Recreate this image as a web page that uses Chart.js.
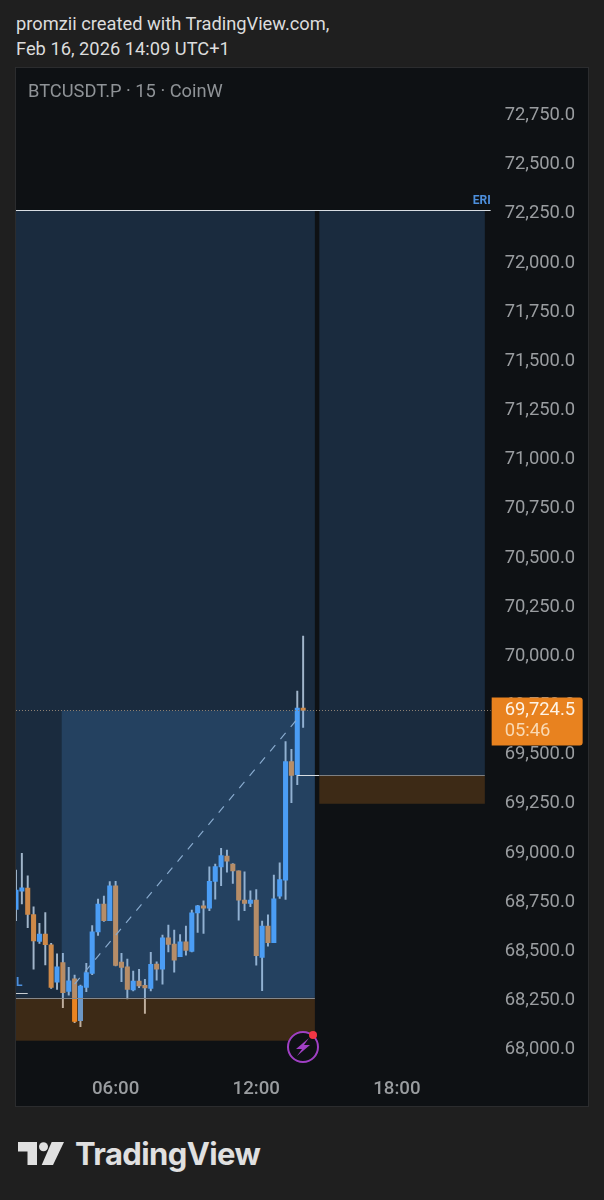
<!DOCTYPE html>
<html>
<head>
<meta charset="utf-8">
<title>BTCUSDT.P 15 CoinW</title>
<script src="https://cdn.jsdelivr.net/npm/chart.js@4"></script>
<style>
html, body { margin: 0; padding: 0; width: 604px; height: 1200px; background: #1f1f1f; overflow: hidden; font-family: Roboto, sans-serif; }
#head { position: absolute; left: 16px; top: 11px; color: #dcdcdc; font-size: 18.3px; line-height: 25px; white-space: nowrap; }
#panel { position: absolute; left: 15px; top: 67px; width: 572px; height: 1038px; border: 1px solid #2b2c2e; background: #0e1114; }
#wrap { position: absolute; left: 16px; top: 68px; width: 572px; height: 1038px; }
#symbol { position: absolute; left: 28px; top: 80px; color: #8f9397; font-size: 18.3px; line-height: 21px; white-space: nowrap; }
#logoText { position: absolute; left: 75px; top: 1135px; color: #e0e0e0; font-family: Inter, sans-serif; font-weight: 700; font-size: 31px; line-height: 38px; letter-spacing: -0.6px; white-space: nowrap; }
svg { position: absolute; }
</style>
</head>
<body>
<div id="head">promzii created with TradingView.com,<br>Feb 16, 2026 14:09 UTC+1</div>
<div id="panel"></div>
<div id="wrap"><canvas id="myChart"></canvas></div>
<div id="symbol">BTCUSDT.P · 15 · CoinW</div>

<!-- alert badge -->
<svg style="left:284px;top:1028px" width="38" height="38" viewBox="0 0 38 38">
  <circle cx="19" cy="19" r="15" fill="#0e1114" stroke="#a040c4" stroke-width="2"></circle>
  <path d="M25 10 L12 21 L18 21 L13 28 L26 17 L20 17 Z" fill="#a040c4"></path>
  <circle cx="29" cy="7" r="4" fill="#f23645"></circle>
</svg>

<!-- logo mark -->
<svg style="left:16px;top:1138px" width="52" height="30" viewBox="0 0 52 30">
  <path d="M2 4 H21 V27 H11.5 V13.5 H2 Z" fill="#e0e0e0"></path>
  <circle cx="27.5" cy="8.7" r="4.5" fill="#e0e0e0"></circle>
  <path d="M35.7 4 H48 L37 27 H25.7 Z" fill="#e0e0e0"></path>
</svg>
<div id="logoText">TradingView</div>

<script>
'use strict';

var times = ['01:45','02:00','02:15','02:30','02:45','03:00','03:15','03:30','03:45','04:00','04:15','04:30','04:45','05:00','05:15','05:30','05:45',
  '06:00','06:15','06:30','06:45','07:00','07:15','07:30','07:45','08:00','08:15','08:30','08:45','09:00','09:15','09:30','09:45',
  '10:00','10:15','10:30','10:45','11:00','11:15','11:30','11:45','12:00','12:15','12:30','12:45','13:00','13:15','13:30','13:45',
  '14:00','14:15','14:30','14:45','15:00','15:15','15:30','15:45','16:00','16:15','16:30','16:45','17:00','17:15','17:30','17:45',
  '18:00','18:15','18:30','18:45','19:00','19:15','19:30','19:45','20:00','20:15','20:30','20:45','21:00','21:15','21:30','21:45','22:00'];

var opens = [68713,68806,68821,68687,68550,68587,68533,68343,68442,68296,68359,68147,68316,68387,68598,68740,68655,68832,68445,68421,68303,68348,68326,68311,
  68434,68409,68568,68536,68472,68548,68499,68695,68731,68719,68855,68929,68984,68943,68909,68760,68743,68760,68468,68628,68543,68780,68862,69465,69398,69737];
var highs = [68913,68998,68884,68726,68642,68696,68540,68487,68489,68418,68379,68328,68438,68631,68765,68781,68854,68855,68489,68460,68399,68408,68357,68494,
  68446,68582,68633,68607,68585,68628,68709,68734,68756,68929,68943,69023,69014,68946,68909,68904,68807,68814,68653,68685,68887,68950,69566,69527,69823,70103];
var lows = [68655,68740,68620,68409,68540,68430,68311,68306,68213,68276,68136,68116,68294,68381,68581,68652,68655,68425,68345,68257,68298,68315,68184,68298,
  68353,68333,68497,68394,68472,68480,68497,68595,68590,68706,68765,68833,68902,68845,68658,68706,68726,68429,68299,68526,68543,68768,68763,69255,69347,69638];
var closes = [68811,68823,68687,68553,68587,68533,68316,68421,68289,68350,68143,68323,68391,68598,68740,68655,68832,68428,68418,68306,68348,68323,68313,68433,
  68409,68568,68534,68455,68548,68504,68695,68731,68719,68855,68931,68987,68958,68909,68760,68743,68760,68478,68628,68543,68767,68865,69464,69394,69737,69724.5];

var priceTicks = [68000,68250,68500,68750,69000,69250,69500,69750,70000,70250,70500,70750,71000,71250,71500,71750,72000,72250,72500,72750];
var timeTicks = ['06:00','12:00','18:00'];

var lastPrice = 69724.5;
var countdown = '05:46';
var yMin = 67901;
var yMax = 72992;

// zones: from index, to index, top price, bottom price, colour
var zoneFrom = [0, 7.8, 0, 51.76, 51.76];
var zoneTo = [51, 51, 51, 80, 80];
var zoneTop = [72270, 69724.5, 68263, 72270, 69396];
var zoneBottom = [68263, 68263, 68045, 69396, 69250];
var zoneColor = ['rgba(80,157,247,0.19)','rgba(80,157,247,0.19)','rgba(232,130,32,0.22)','rgba(80,157,247,0.19)','rgba(232,130,32,0.22)'];

// level lines: from index, to index, price, colour
var lineFrom = [0, 48, 51.76, 0, 0];
var lineTo = [81, 51.76, 80, 51, 2];
var linePrice = [72270, 69396, 69396, 68263, 68287];
var lineColor = ['#d8dde2','#d8dde2','#7d7f82','#85888c','#c8ccd0'];

var trendTimes = ['04:15','13:45'];
var trendPrices = [68333,69681];

var upColor = '#4a9df5';
var downColor = '#ec8420';
var wickColor = '#b4bac0';

function bodyColor(ctx) {
  return closes[ctx.dataIndex] >= opens[ctx.dataIndex] ? upColor : downColor;
}

var overlayPlugin = {
  id: 'overlay',
  afterDatasetsDraw: function(chart) {
    var c = chart.ctx;
    var x = chart.scales.x;
    var y = chart.scales.y;
    var i;
    c.save();
    for (i = 0; i < zoneFrom.length; i++) {
      var x0 = x.getPixelForValue(zoneFrom[i]);
      var x1 = x.getPixelForValue(zoneTo[i]);
      var y0 = y.getPixelForValue(zoneTop[i]);
      var y1 = y.getPixelForValue(zoneBottom[i]);
      c.fillStyle = zoneColor[i];
      c.fillRect(x0, y0, x1 - x0, y1 - y0);
    }
    c.lineWidth = 1;
    for (i = 0; i < lineFrom.length; i++) {
      var ly = Math.round(y.getPixelForValue(linePrice[i])) + 0.5;
      c.strokeStyle = lineColor[i];
      c.beginPath();
      c.moveTo(x.getPixelForValue(lineFrom[i]), ly);
      c.lineTo(x.getPixelForValue(lineTo[i]), ly);
      c.stroke();
    }
    // last price dotted line
    var py = Math.round(y.getPixelForValue(lastPrice)) + 0.5;
    c.strokeStyle = '#8c8073';
    c.setLineDash([1, 2]);
    c.beginPath();
    c.moveTo(chart.chartArea.left, py);
    c.lineTo(chart.chartArea.right, py);
    c.stroke();
    c.setLineDash([]);
    // study labels
    c.font = 'bold 12px Roboto';
    c.fillStyle = '#4d8fdc';
    c.textAlign = 'right';
    c.textBaseline = 'bottom';
    c.fillText('ERI', chart.chartArea.right, y.getPixelForValue(72270) - 3);
    c.textAlign = 'left';
    c.fillText('L', chart.chartArea.left, y.getPixelForValue(68287) - 4);
    c.restore();
  },
  afterDraw: function(chart) {
    var c = chart.ctx;
    var py = chart.scales.y.getPixelForValue(lastPrice);
    var left = chart.chartArea.right + 1;
    c.save();
    c.fillStyle = '#e8821f';
    c.beginPath();
    c.roundRect(left, py - 13, 91, 48, [0, 3, 3, 0]);
    c.fill();
    c.font = '18.4px Roboto';
    c.textAlign = 'left';
    c.textBaseline = 'middle';
    c.fillStyle = '#fdf3e6';
    c.fillText('69,724.5', left + 13, py);
    c.fillStyle = '#f9d9b3';
    c.fillText(countdown, left + 13, py + 21);
    c.restore();
  }
};

var chart = new Chart(document.getElementById('myChart').getContext('2d'), {
  type: 'bar',
  plugins: [overlayPlugin],
  data: {
    labels: times,
    datasets: [{
      type: 'line',
      label: 'trend',
      data: trendTimes.map(function(t, i) { return {x: t, y: trendPrices[i]}; }),
      borderColor: '#a6b0ba',
      borderWidth: 1.2,
      borderDash: [8, 8],
      pointRadius: 0,
      order: 1
    }, {
      label: 'wick',
      data: lows.map(function(l, i) { return [l, highs[i]]; }),
      backgroundColor: wickColor,
      barThickness: 1.3,
      grouped: false,
      order: 3
    }, {
      label: 'body',
      data: opens.map(function(o, i) { return [o, closes[i]]; }),
      backgroundColor: bodyColor,
      barThickness: 4.4,
      grouped: false,
      order: 2
    }]
  },
  options: {
    responsive: true,
    maintainAspectRatio: false,
    animation: false,
    layout: { padding: 0 },
    plugins: { legend: { display: false }, tooltip: { enabled: false } },
    scales: {
      x: {
        type: 'category',
        offset: false,
        grid: { display: false, drawTicks: false },
        border: { display: false },
        afterFit: function(scale) { scale.height = 37; scale.paddingLeft = 0; scale.paddingRight = 0; },
        afterBuildTicks: function(scale) {
          scale.ticks = timeTicks.map(function(t) { return {value: times.indexOf(t)}; });
        },
        ticks: {
          autoSkip: false,
          maxRotation: 0,
          padding: 9,
          color: '#9a9da0',
          font: { family: 'Roboto', size: 18.7, weight: '500' }
        }
      },
      y: {
        position: 'right',
        min: yMin,
        max: yMax,
        grid: { display: false, drawTicks: false },
        border: { display: false },
        afterFit: function(scale) { scale.width = 97.34; scale.paddingTop = 0; scale.paddingBottom = 0; },
        afterBuildTicks: function(scale) {
          scale.ticks = priceTicks.map(function(v) { return {value: v}; });
        },
        ticks: {
          padding: 14,
          color: '#9a9da0',
          font: { family: 'Roboto', size: 18.4 },
          callback: function(v) { return v.toLocaleString('en-US', {minimumFractionDigits: 1}); }
        }
      }
    }
  }
});
</script>
</body>
</html>
